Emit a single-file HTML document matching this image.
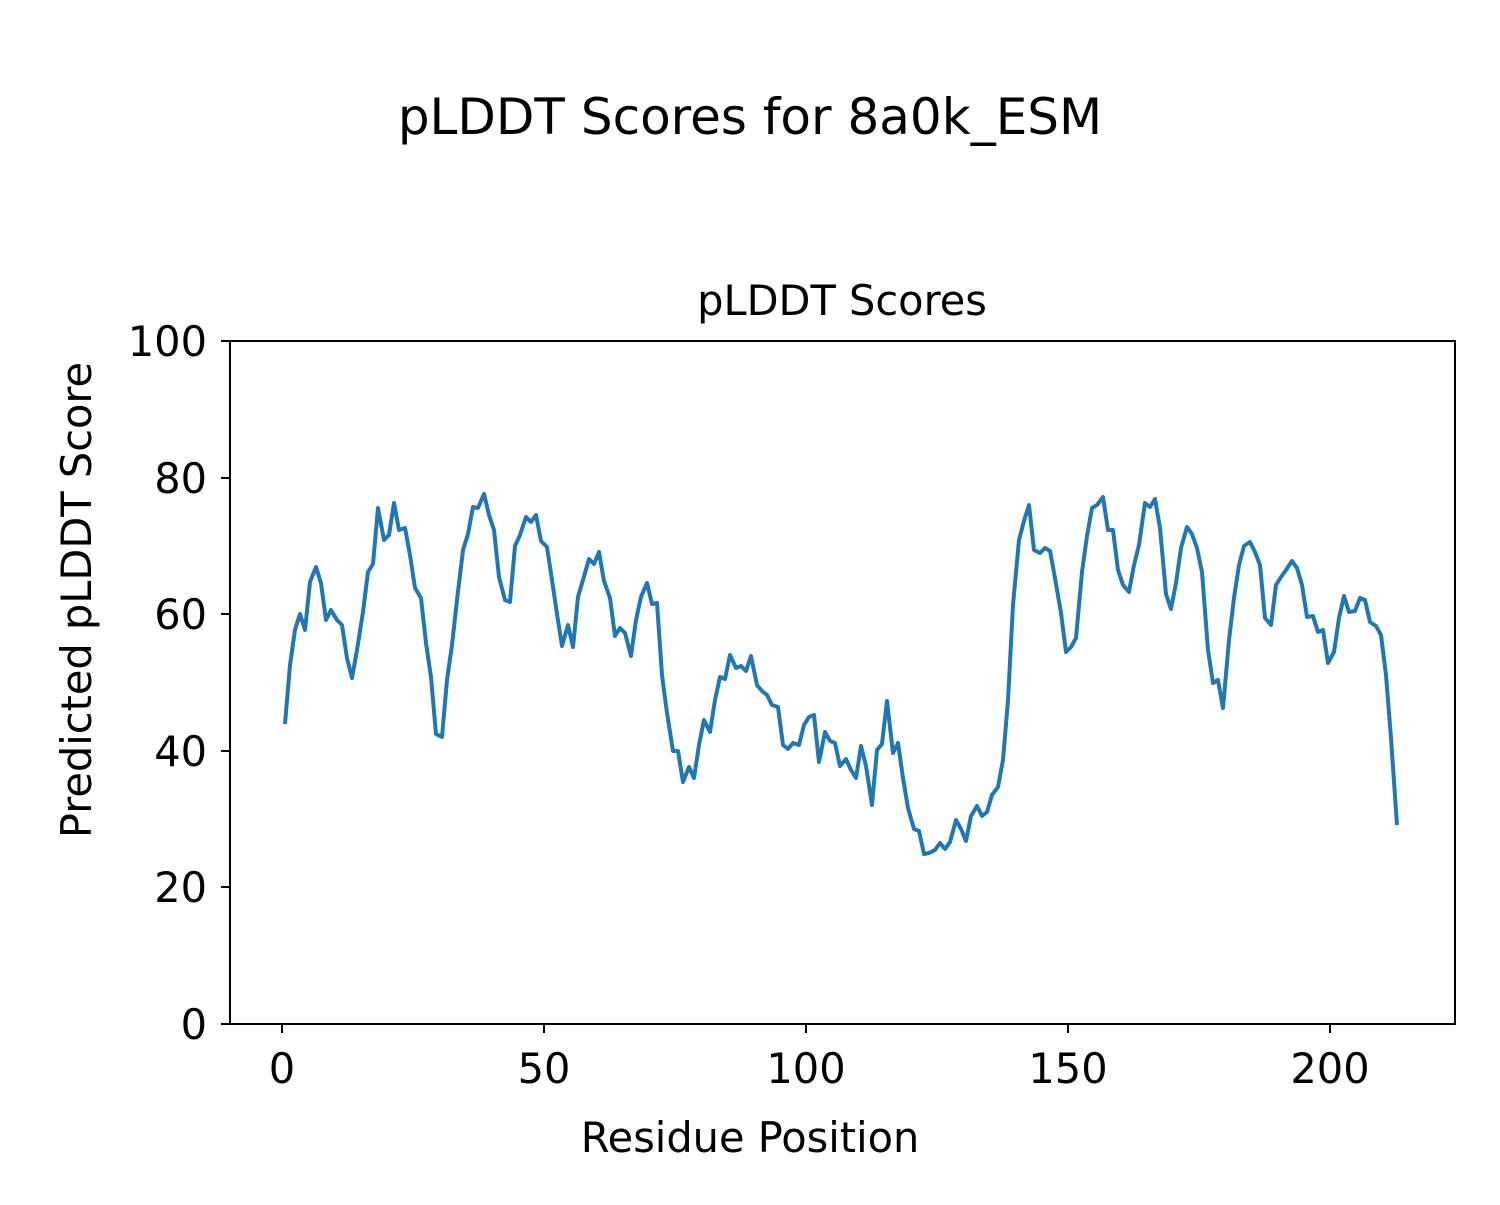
<!DOCTYPE html>
<html><head><meta charset="utf-8"><style>html,body{margin:0;padding:0;background:#fff}</style></head>
<body>
<svg width="1500" height="1200" xmlns="http://www.w3.org/2000/svg" font-family="DejaVu Sans, Liberation Sans, sans-serif">
<rect width="1500" height="1200" fill="#fff"/>
<text x="750" y="134" font-size="50" text-anchor="middle">pLDDT Scores for 8a0k_ESM</text>
<text x="842" y="315" font-size="41.5" text-anchor="middle">pLDDT Scores</text>
<polyline fill="none" stroke="#1f77b4" stroke-width="4" stroke-linejoin="round" points="285,724 290,665 295,630 300,614 305,630 310,582 316,567 321,583 326,620 331,610 337,620 342,625 347,658 352,678 357,650 363,612 368,572 373,564 378,508 384,540 389,535 394,503 399,530 405,528 410,555 415,588 421,598 426,643 431,677 436,734 442,737 447,680 452,645 457,600 463,550 468,534 473,507 478,508 484,494 489,515 494,530 499,577 505,600 510,602 515,546 520,535 526,517 531,522 536,515 541,541 547,547 552,580 557,614 562,646 568,625 573,647 578,597 583,580 589,559 594,564 599,552 604,581 610,598 615,636 620,628 625,633 631,656 636,620 641,597 647,583 652,604 657,603 662,675 667,713 673,751 678,751 683,782 689,767 694,778 699,745 704,720 710,732 715,700 720,677 725,679 730,655 736,668 741,666 746,671 751,656 757,685 762,691 767,695 772,705 778,707 783,745 788,749 793,743 799,745 804,725 809,717 814,715 819,762 825,732 830,741 835,743 840,766 846,759 851,770 856,778 861,746 866,766 872,805 877,750 882,744 887,701 893,753 898,743 903,778 908,808 914,829 919,831 924,854 929,853 935,850 940,843 945,849 950,842 956,820 961,829 966,841 971,816 977,806 982,816 987,812 992,795 998,787 1003,760 1008,700 1013,605 1019,540 1024,521 1029,505 1034,550 1040,553 1045,548 1050,551 1055,578 1061,613 1066,652 1071,647 1076,638 1082,572 1087,536 1092,508 1097,505 1103,497 1108,530 1113,530 1118,570 1123,585 1129,592 1134,565 1139,545 1145,503 1150,507 1155,499 1160,528 1166,594 1171,609 1176,583 1181,548 1187,527 1192,534 1197,548 1202,572 1208,650 1213,683 1218,680 1223,708 1229,640 1234,598 1239,565 1244,546 1250,542 1255,552 1260,565 1265,618 1271,625 1276,585 1281,577 1286,570 1292,561 1297,568 1302,585 1307,617 1313,616 1318,632 1323,630 1328,663 1334,652 1339,618 1344,596 1349,612 1355,611 1360,598 1365,600 1370,622 1376,626 1381,635 1386,675 1391,738 1397,825"/>
<rect x="230" y="341" width="1225" height="683" fill="none" stroke="#000" stroke-width="2"/>
<g stroke="#000" stroke-width="2">
<line x1="282" y1="1024" x2="282" y2="1033"/><line x1="544" y1="1024" x2="544" y2="1033"/><line x1="806" y1="1024" x2="806" y2="1033"/><line x1="1068" y1="1024" x2="1068" y2="1033"/><line x1="1330" y1="1024" x2="1330" y2="1033"/>
<line x1="221" y1="1024" x2="230" y2="1024"/><line x1="221" y1="887" x2="230" y2="887"/><line x1="221" y1="751" x2="230" y2="751"/><line x1="221" y1="614" x2="230" y2="614"/><line x1="221" y1="478" x2="230" y2="478"/><line x1="221" y1="341" x2="230" y2="341"/>
</g>
<g font-size="41.5" text-anchor="middle">
<text x="282" y="1083">0</text><text x="544" y="1083">50</text><text x="806" y="1083">100</text><text x="1068" y="1083">150</text><text x="1330" y="1083">200</text>
</g>
<g font-size="41.5" text-anchor="end">
<text x="207" y="1039">0</text><text x="207" y="902">20</text><text x="207" y="766">40</text><text x="207" y="629">60</text><text x="207" y="493">80</text><text x="207" y="356">100</text>
</g>
<text x="750" y="1152" font-size="41.5" text-anchor="middle">Residue Position</text>
<text transform="translate(91,600) rotate(-90)" font-size="41.5" text-anchor="middle">Predicted pLDDT Score</text>
</svg>
</body></html>
